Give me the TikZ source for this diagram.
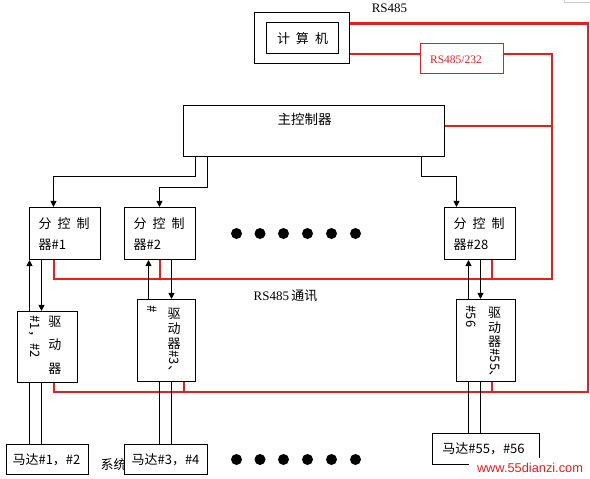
\documentclass[tikz,border=0pt]{standalone}
\usepackage{fontspec}
\setmainfont{Liberation Serif}
\newfontfamily\cjk{Noto Sans CJK SC}
\newfontfamily\wmfont{Liberation Sans}
\usetikzlibrary{arrows.meta}
\definecolor{lred}{RGB}{230,30,30}
\begin{document}
\begin{tikzpicture}[x=1pt,y=-1pt,
  box/.style={draw=black,line width=1.1pt,inner sep=0pt,fill=white},
  blk/.style={draw=black,line width=1.1pt},
  rline/.style={draw=lred,line width=2pt},
  arr/.style={blk,-{Triangle[length=6pt,width=6pt]}},
  zh/.style={font={\cjk\fontsize{13}{13}\selectfont},inner sep=0pt},
  vt/.style={zh,rotate=-90,anchor=west},
  dot/.style={fill=black}
]
\useasboundingbox (-0.5,-0.5) rectangle (589.5,478.5);
\fill[white] (-0.5,-0.5) rectangle (589.5,478.5);

% x / y helper coordinates
\coordinate (xA) at (53,0);
\coordinate (xB) at (159,0);
\coordinate (xC) at (491,0);
\coordinate (xD) at (183,0);
\coordinate (xE) at (29,0);
\coordinate (xF) at (41,0);
\coordinate (xG) at (148,0);
\coordinate (xH) at (171,0);
\coordinate (xI) at (468,0);
\coordinate (xJ) at (480,0);
\coordinate (xK) at (195,0);
\coordinate (xL) at (207,0);
\coordinate (xM) at (421,0);
\coordinate (xN) at (456,0);
\coordinate (xR) at (587,0);
\coordinate (xS) at (551,0);
\coordinate (yT) at (0,23);
\coordinate (yM) at (0,53);
\coordinate (yC) at (0,125);
\coordinate (yB1) at (0,278);
\coordinate (yB2) at (0,391);

% computer
\node[box,minimum width=95pt,minimum height=51pt] (pcout) at (301.5,37.5) {};
\node[box,minimum width=72pt,minimum height=31pt] (pcin) at (302,37.5) {};
\node[zh] (pctext) at (302,38) {计\hspace{6pt}算\hspace{6pt}机};
\node[font=\fontsize{13}{14}\selectfont,inner sep=0pt] (rs1) at (389,8) {RS485};

% converter
\node[box,draw=lred,line width=1.5pt,minimum width=83pt,minimum height=30pt] (conv) at (461.5,58) {};
\node[text=lred,font=\fontsize{11.5}{12}\selectfont,inner sep=0pt] (convtext) at (455.5,59) {RS485/232};

% main controller
\node[box,minimum width=261pt,minimum height=51pt] (main) at (313.5,130.5) {};
\node[zh,font={\cjk\fontsize{13.5}{14}\selectfont}] (maintext) at (304,119) {主控制器};

% sub controllers
\node[box,minimum width=71pt,minimum height=52pt] (c1) at (64.5,233) {};
\node[zh,anchor=west] (c1a) at (38,223) {分\hspace{6pt}控\hspace{6pt}制};
\node[zh,anchor=west] (c1b) at (38,244) {器\#1};
\node[box,minimum width=71pt,minimum height=52pt] (c2) at (159.5,233) {};
\node[zh,anchor=west] (c2a) at (133,223) {分\hspace{6pt}控\hspace{6pt}制};
\node[zh,anchor=west] (c2b) at (133,244) {器\#2};
\node[box,minimum width=71pt,minimum height=52pt] (c28) at (479.5,233) {};
\node[zh,anchor=west] (c28a) at (453,223) {分\hspace{6pt}控\hspace{6pt}制};
\node[zh,anchor=west] (c28b) at (453,244) {器\#28};

% drivers
\node[box,minimum width=60pt,minimum height=71pt] (d1) at (47,346.5) {};
\node[zh] (d1a) at (54.5,321) {驱};
\node[zh] (d1b) at (54.5,344) {动};
\node[zh] (d1c) at (54.5,368) {器};
\node[vt] (d1d) at (34,315) {\#1，\#2};

\node[box,minimum width=58pt,minimum height=82pt] (d2) at (166,340) {};
\node[zh] (d2a) at (173.5,313) {驱};
\node[zh] (d2b) at (173.5,328.5) {动};
\node[zh] (d2c) at (173.5,343) {器};
\node[vt] (d2d) at (173.5,350) {\#3、};
\node[vt] (d2e) at (152,305) {\#};

\node[box,minimum width=59pt,minimum height=82pt] (d28) at (485.5,340) {};
\node[zh] (d28a) at (494,312) {驱};
\node[zh] (d28b) at (494,327) {动};
\node[zh] (d28c) at (494,341) {器};
\node[vt] (d28d) at (494,348) {\#55、};
\node[vt] (d28e) at (471,305) {\#56};

% motors
\node[zh,anchor=west] (sys) at (100,464) {系统};
\node[box,minimum width=82pt,minimum height=30pt] (m1) at (47,459) {};
\node[zh] (m1t) at (46,459) {马达\#1，\#2};
\node[box,minimum width=83pt,minimum height=30pt] (m2) at (165.5,459) {};
\node[zh] (m2t) at (165,459) {马达\#3，\#4};
\node[box,minimum width=107pt,minimum height=31pt] (m28) at (485.5,448.5) {};
\node[zh] (m28t) at (483,448) {马达\#55，\#56};

% dots
\foreach \xx in {236,259.5,283,307,331,355}{
  \fill[dot] (\xx,233) circle (5.5pt);
  \fill[dot] (\xx,459) circle (5.5pt);
}

% RS485 label
\node[inner sep=0pt] (rs2) at (285,295) {\fontsize{13}{14}\selectfont RS485\,{\cjk 通讯}};

% red buses
\draw[rline] (pcout.east |- yT) -| (xR |- yB2) -| (d1.south -| xA);
\draw[rline] (d2.south -| xD) -- (xD |- yB2);
\draw[rline] (d28.south -| xC) -- (xC |- yB2);
\draw[rline] (pcout.east |- yM) -- (conv.west |- yM);
\draw[rline] (conv.east |- yM) -| (xS |- yB1) -| (c1.south -| xA);
\draw[rline] (main.east |- yC) -- (xS |- yC);
\draw[rline] (c2.south -| xB) -- (xB |- yB1);
\draw[rline] (c28.south -| xC) -- (xC |- yB1);

% main -> sub controllers
\draw[arr] (main.south -| xK) -- (195,176) -| (c1.north -| xA);
\draw[arr] (main.south -| xL) -- (207,187) -| (c2.north -| xB);
\draw[arr] (main.south -| xM) -- (421,176) -| (c28.north -| xN);

% controller <-> driver
\draw[arr] (d1.north -| xE) -- (c1.south -| xE);
\draw[arr] (c1.south -| xF) -- (d1.north -| xF);
\draw[arr] (d2.north -| xG) -- (c2.south -| xG);
\draw[arr] (c2.south -| xH) -- (d2.north -| xH);
\draw[arr] (d28.north -| xI) -- (c28.south -| xI);
\draw[arr] (c28.south -| xJ) -- (d28.north -| xJ);

% driver -- motor
\draw[blk] (d1.south -| xE) -- (m1.north -| xE);
\draw[blk] (d1.south -| xF) -- (m1.north -| xF);
\draw[blk] (d2.south -| xB) -- (m2.north -| xB);
\draw[blk] (d2.south -| xH) -- (m2.north -| xH);
\draw[blk] (d28.south -| xI) -- (m28.north -| xI);
\draw[blk] (d28.south -| xJ) -- (m28.north -| xJ);

% corner mark and watermark
\draw[gray!40] (564,0) -- (564,2) -- (589.5,2);
\fill[white] (468,457) rectangle (589.5,478.5);
\node[text=lred,font={\wmfont\fontsize{12.8}{13}\selectfont},inner sep=0pt] (wm) at (529.5,467) {www.55dianzi.com};
\end{tikzpicture}
\end{document}
